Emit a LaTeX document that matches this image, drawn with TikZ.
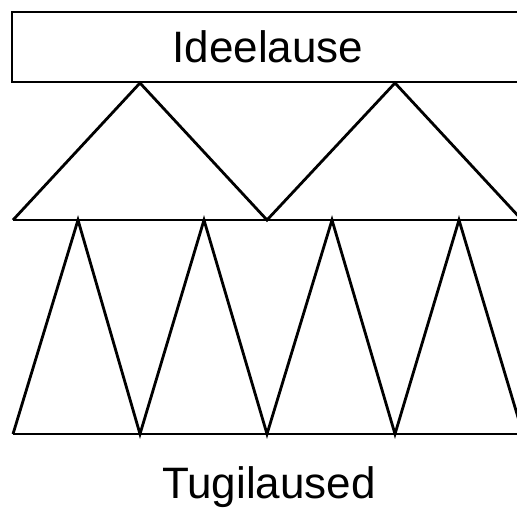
\documentclass[tikz,border=0pt]{standalone}
\usepackage{fontspec}
\setmainfont{Liberation Sans}
\begin{document}
\begin{tikzpicture}[x=1pt,y=-1pt,line width=2.8pt,line join=miter]
                \useasboundingbox (0,0) rectangle (517,507);
                \clip (0,0) rectangle (517,507);
                \node[draw,minimum width=512pt,minimum height=70pt,inner sep=0pt,font=\fontsize{44}{48}\selectfont] (idee) at (268,47) {Ideelause};
                \node[anchor=base,font=\fontsize{44}{48}\selectfont] (tugi) at (269,498) {Tugilaused};
                \coordinate (A1) at (140,83);
                \coordinate (A2) at (395,83);
                \coordinate (L) at (13,220);
                \coordinate (M) at (267,220);
                \coordinate (R) at (522,220);
                \coordinate (T1) at (78,220);
                \coordinate (T2) at (204,220);
                \coordinate (T3) at (332,220);
                \coordinate (T4) at (459,220);
                \coordinate (B0) at (13,434);
                \coordinate (B1) at (140,434);
                \coordinate (B2) at (267,434);
                \coordinate (B3) at (395,434);
                \coordinate (B4) at (523,434);
                \draw (L) -- (A1) -- (M) -- (A2) -- (R);
                \draw (L) -- (R);
                \draw (B0) -- (T1) -- (B1) -- (T2) -- (B2) -- (T3) -- (B3) -- (T4) -- (B4);
                \draw (B0) -- (B4);
            \end{tikzpicture}
\end{document}
